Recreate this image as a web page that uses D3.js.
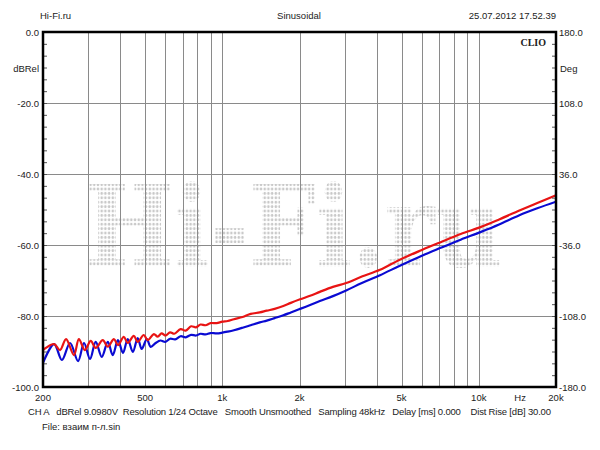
<!DOCTYPE html>
<html><head><meta charset="utf-8">
<script src="https://cdn.jsdelivr.net/npm/d3@7"></script>
<style>
body{margin:0;background:#fff}
svg{display:block}
text{font-family:"Liberation Sans",Arial,sans-serif;font-size:9.5px;fill:#222}
</style>
</head><body>
<svg id="c" width="600" height="450"></svg>
<script>
// ---- data ----
const xTickValues = [200, 500, 1000, 2000, 5000, 10000, 20000];
const xTickLabels = ["200", "500", "1k", "2k", "5k", "10k", "20k"];
const xGridValues = [300, 400, 500, 600, 700, 800, 900, 1000, 2000, 3000, 4000, 5000, 6000, 7000, 8000, 9000, 10000];
const yTickValues = [0, -20, -40, -60, -80, -100];
const yTickLabels = ["0.0", "-20.0", "-40.0", "-60.0", "-80.0", "-100.0"];
const phaseTickValues = [180, 108, 36, -36, -108, -180];
const phaseTickLabels = ["180.0", "108.0", "36.0", "-36.0", "-108.0", "-180.0"];

const redFreq = [200, 205, 221, 233, 246, 264, 276, 291, 307, 321, 342, 358, 378, 392, 413, 428, 452, 468, 494, 512, 541,
  560, 580, 600, 626, 650, 688, 720, 756, 790, 823, 860, 900, 950, 1000, 1050, 1110, 1200, 1290, 1400, 1490, 1600, 1730, 1850,
  2010, 2200, 2400, 2700, 3040, 3500, 4120, 4900, 6000, 7100, 8500, 10200, 12000, 14400, 17000, 20000];
const redDb = [-89.6, -89.0, -87.9, -89.6, -86.5, -91.0, -86.5, -89.6, -87.0, -89.0, -86.8, -88.6, -86.5, -88.2, -85.9, -87.6, -85.6, -87.3, -85.35, -86.8, -85.1,
  -85.8, -84.9, -85.5, -84.6, -85.0, -83.7, -84.1, -82.9, -83.2, -82.4, -82.6, -82.0, -82.0, -81.6, -81.4, -80.9, -80.3, -79.4, -79.0, -78.5, -78.0, -77.2, -76.3,
  -75.3, -74.3, -73.2, -71.8, -70.7, -68.9, -67.0, -64.2, -61.4, -59.2, -56.9, -54.9, -52.8, -50.3, -48.1, -46.0];

const blueFreq = [200, 221, 237, 255, 274, 289, 305, 321, 339, 358, 374, 392, 410, 428, 448, 468, 485, 508, 526, 550,
  574, 600, 626, 655, 688, 720, 756, 790, 823, 860, 900, 950, 1000, 1050, 1110, 1200, 1290, 1400, 1490, 1600, 1730, 1850,
  2010, 2200, 2400, 2700, 3040, 3500, 4120, 4900, 6000, 7100, 8500, 10200, 12000, 14400, 17000, 20000];
const blueDb = [-93.2, -87.9, -92.4, -87.6, -92.7, -87.6, -92.1, -87.3, -91.5, -87.3, -91.0, -86.8, -90.4, -86.5, -90.1, -86.2, -89.3, -86.5, -88.7, -87.6,
  -86.9, -87.3, -86.4, -86.6, -85.7, -86.0, -85.3, -85.5, -85.0, -85.2, -84.8, -84.9, -84.7, -84.4, -84.0, -83.3, -82.6, -81.8, -81.3, -80.6, -79.8, -79.0,
  -78.0, -76.9, -75.8, -74.4, -72.8, -70.7, -68.5, -65.9, -63.0, -60.8, -58.5, -56.3, -54.2, -51.6, -49.6, -47.8];

// ---- layout ----
const L = 43, R = 556, T = 32, B = 387;
const svg = d3.select("#c");

const x = d3.scaleLog().domain([200, 20000]).range([L, R]);
const y = d3.scaleLinear().domain([-100, 0]).range([B, T]);
const yPhase = d3.scaleLinear().domain([-180, 180]).range([B, T]);

// watermark dot pattern
const defs = svg.append("defs");
const pat = defs.append("pattern").attr("id", "dots").attr("patternUnits", "userSpaceOnUse")
  .attr("width", 4.4).attr("height", 4.4);
pat.append("circle").attr("cx", 2.2).attr("cy", 2.2).attr("r", 1.5).attr("fill", "#c8c8c8");

const wm = svg.append("text")
  .attr("x", 0).attr("y", 0)
  .style("font-family", "'DejaVu Serif', serif").style("font-weight", "bold").style("font-size", "112px")
  .style("fill", "url(#dots)")
  .text("Hi-Fi.ru");
const wmW = wm.node().getComputedTextLength() || 500;
wm.attr("transform", `translate(85,266) scale(${418 / wmW},1)`);

// grid
const grid = svg.append("g").attr("stroke", "#8a8a8a").attr("stroke-width", 1).attr("shape-rendering", "crispEdges");
grid.selectAll("line.v").data(xGridValues).join("line").attr("class", "v")
  .attr("x1", d => Math.round(x(d)) + 0.5).attr("x2", d => Math.round(x(d)) + 0.5).attr("y1", T).attr("y2", B);
grid.selectAll("line.h").data(yTickValues.slice(1, -1)).join("line").attr("class", "h")
  .attr("x1", L).attr("x2", R).attr("y1", d => Math.round(y(d)) + 0.5).attr("y2", d => Math.round(y(d)) + 0.5);

// curves
const line = d3.line().curve(d3.curveCatmullRom.alpha(0.5));
const clip = defs.append("clipPath").attr("id", "pc");
clip.append("rect").attr("x", L).attr("y", T).attr("width", R - L).attr("height", B - T);
const curves = svg.append("g").attr("clip-path", "url(#pc)").attr("fill", "none").attr("stroke-width", 2.2).attr("stroke-linejoin", "round");
curves.append("path").attr("stroke", "#0a0ad2").attr("d", line(blueFreq.map((f, i) => [x(f), y(blueDb[i])])));
curves.append("path").attr("stroke", "#e81414").attr("d", line(redFreq.map((f, i) => [x(f), y(redDb[i])])));

// axes (inner minor ticks only)
const minorTicks = d3.range(-100, 0.01, 20 / 6);
const gl = svg.append("g").attr("transform", `translate(${L},0)`).call(d3.axisRight(y).tickValues(minorTicks).tickSize(4).tickFormat(""));
const gr = svg.append("g").attr("transform", `translate(${R},0)`).call(d3.axisLeft(y).tickValues(minorTicks).tickSize(4).tickFormat(""));
[gl, gr].forEach(g => { g.select(".domain").remove(); g.selectAll("text").remove(); g.selectAll("line").attr("stroke", "#555"); });

// frame
svg.append("rect").attr("x", L).attr("y", T).attr("width", R - L).attr("height", B - T)
  .attr("fill", "none").attr("stroke", "#000").attr("stroke-width", 2.5);

// tick labels
svg.append("g").selectAll("text").data(yTickValues).join("text")
  .attr("x", 39).attr("y", d => y(d) + 3.5).attr("text-anchor", "end").text((d, i) => yTickLabels[i]);
svg.append("g").selectAll("text").data(phaseTickValues).join("text")
  .attr("x", 559).attr("y", d => yPhase(d) + 3.5).attr("text-anchor", "start").text((d, i) => phaseTickLabels[i]);
svg.append("g").selectAll("text").data(xTickValues).join("text")
  .attr("x", d => x(d)).attr("y", 401).attr("text-anchor", "middle").text((d, i) => xTickLabels[i]);
svg.append("text").attr("x", x(14500)).attr("y", 401).attr("text-anchor", "middle").text("Hz");

svg.append("text").attr("x", 39).attr("y", 72).attr("text-anchor", "end").text("dBRel");
svg.append("text").attr("x", 560).attr("y", 72).attr("text-anchor", "start").text("Deg");

// header
svg.append("text").attr("x", 40).attr("y", 19).text("Hi-Fi.ru");
svg.append("text").attr("x", 299).attr("y", 19).attr("text-anchor", "middle").text("Sinusoidal");
svg.append("text").attr("x", 556).attr("y", 19).attr("text-anchor", "end").text("25.07.2012 17.52.39");
svg.append("text").attr("x", 546).attr("y", 46).attr("text-anchor", "end")
  .style("font-family", "'Liberation Serif', serif").style("font-weight", "bold").style("font-size", "10px").text("CLIO");

// footer
svg.append("text").attr("x", 28).attr("y", 415).attr("xml:space", "preserve")
  .attr("textLength", 523).attr("lengthAdjust", "spacing")
  .text("CH A   dBRel 9.0980V  Resolution 1/24 Octave   Smooth Unsmoothed   Sampling 48kHz   Delay [ms] 0.000    Dist Rise [dB] 30.00");
svg.append("text").attr("x", 42).attr("y", 430).text("File: взаим п-л.sin");
</script>
</body></html>
